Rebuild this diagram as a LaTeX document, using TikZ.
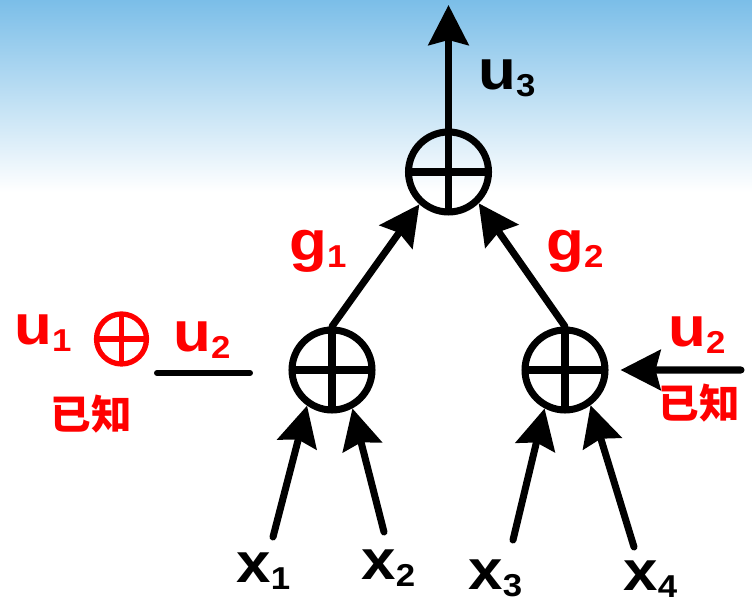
\documentclass[tikz,border=0pt]{standalone}
\usepackage{fontspec}
\setmainfont{Liberation Sans}[FakeStretch=1.1]
\newfontfamily\cjkfont{Noto Sans CJK SC}
\usepackage{tikz}
\usetikzlibrary{positioning, arrows.meta, shadings}
\definecolor{skytop}{RGB}{123,190,232}
\newcommand{\lblidx}[2]{#1\raisebox{-3.5pt}{\fontsize{18}{18}\selectfont #2}}

\begin{document}
\begin{tikzpicture}[
  xornode/.style={
    circle, draw=#1, line width=4pt,
    minimum size=1.6cm, inner sep=0pt,
    path picture={
      \draw[#1] (path picture bounding box.north) -- (path picture bounding box.south)
                (path picture bounding box.west) -- (path picture bounding box.east);
    }
  },
  xornode/.default=black,
  lbl/.style={
    font=\bfseries\fontsize{32}{32}\selectfont,
    inner sep=0pt, anchor=base west
  },
  redlbl/.style={lbl, text=red},
  known/.style={
    font=\cjkfont\bfseries\fontsize{23}{23}\selectfont,
    text=red, inner sep=0pt
  },
  connarr/.style={
    -{Stealth[length=0.8cm, width=0.8cm, inset=0.1cm]},
    line width=4pt, line cap=round, color=black
  }
]
% background
\useasboundingbox (0,0) rectangle (15.04,12.04);
\fill[white] (0,0) rectangle (15.04,12.04);
\shade[top color=skytop, bottom color=white] (0,8.2) rectangle (15.04,12.04);

% adder tree
\node[xornode] (top) at (8.97,8.60) {};
\node[xornode, on grid, below left=3.96cm and 2.33cm of top]  (lmid) {};
\node[xornode, on grid, below right=3.96cm and 2.33cm of top] (rmid) {};

\coordinate (out) at (8.97,11.94);
\coordinate (in1) at (5.46,1.30);
\coordinate (in2) at (7.68,1.40);
\coordinate (in3) at (10.26,1.24);
\coordinate (in4) at (12.68,1.10);
\coordinate (u2in) at (14.82,4.64);

\draw[connarr] (top.north) -- (out);
\draw[connarr] (lmid.north) -- (top.228);
\draw[connarr] (rmid.north) -- (top.314);
\draw[connarr] (in1) -- (lmid.235);
\draw[connarr] (in2) -- (lmid.298);
\draw[connarr] (in3) -- (rmid.242);
\draw[connarr] (in4) -- (rmid.306);
\draw[connarr, shorten >=0.24cm] (u2in) -- (rmid.east);

% labels
\node[lbl]    (u3) at (9.56,10.24) {\lblidx{u}{3}};
\node[redlbl] (g1) at (5.78,6.82)  {\lblidx{g}{1}};
\node[redlbl] (g2) at (10.92,6.82) {\lblidx{g}{2}};
\node[lbl]    (x1) at (4.72,0.38)  {\lblidx{x}{1}};
\node[lbl]    (x2) at (7.22,0.44)  {\lblidx{x}{2}};
\node[lbl]    (x3) at (9.36,0.24)  {\lblidx{x}{3}};
\node[lbl]    (x4) at (12.46,0.22) {\lblidx{x}{4}};

% known inputs
\node[redlbl] (u1)  at (0.28,5.14)  {\lblidx{u}{1}};
\node[xornode=red, line width=3pt, minimum size=1.0cm] (xorred) at (2.43,5.26) {};
\node[redlbl] (u2l) at (3.46,5.00)  {\lblidx{u}{2}};
\coordinate (kl) at (3.14,4.58);
\coordinate (kr) at (5.00,4.58);
\draw[line width=3.4pt, line cap=round] (kl) -- (kr);
\node[known]  (knownl) at (1.82,3.76) {已知};
\node[redlbl] (u2r) at (13.36,5.10) {\lblidx{u}{2}};
\node[known]  (knownr) at (13.98,3.98) {已知};
\end{tikzpicture}
\end{document}
